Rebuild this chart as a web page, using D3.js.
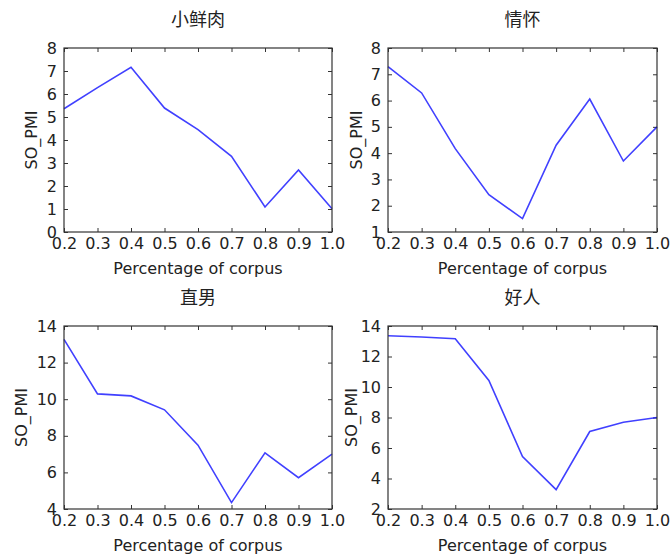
<!DOCTYPE html>
<html>
<head>
<meta charset="utf-8">
<script src="https://cdn.jsdelivr.net/npm/d3@7"></script>
<style>
  body { margin: 0; background: #fff; }
  svg { display: block; }
  text { font-family: "DejaVu Sans", sans-serif; fill: #222; }
  .title { font-family: "Noto Sans CJK SC", "DejaVu Sans", sans-serif; }
</style>
</head>
<body>
<div id="chart"></div>
<script>
// data
const xValues = [0.2, 0.3, 0.4, 0.5, 0.6, 0.7, 0.8, 0.9, 1.0];
const titles = ["小鲜肉", "情怀", "直男", "好人"];
const xiaoxianrou = [5.36, 6.28, 7.16, 5.39, 4.45, 3.29, 1.09, 2.70, 1.01];
const qinghuai    = [7.29, 6.29, 4.17, 2.42, 1.51, 4.30, 6.06, 3.70, 5.00];
const zhinan      = [13.27, 10.29, 10.18, 9.42, 7.49, 4.35, 7.07, 5.71, 7.00];
const haoren      = [13.36, 13.28, 13.17, 10.43, 5.44, 3.27, 7.08, 7.69, 8.00];
const yTicks1 = [0, 1, 2, 3, 4, 5, 6, 7, 8];
const yTicks2 = [1, 2, 3, 4, 5, 6, 7, 8];
const yTicks3 = [4, 6, 8, 10, 12, 14];
const yTicks4 = [2, 4, 6, 8, 10, 12, 14];
const xLabel = "Percentage of corpus";
const yLabel = "SO_PMI";

const W = 670, H = 556;
const svg = d3.select("#chart").append("svg").attr("width", W).attr("height", H);

// panel boxes (plot area)
const panels = [
  { series: xiaoxianrou, ticks: yTicks1, x0: 64,  x1: 332, y0: 48,  y1: 232, ylx: 31 },
  { series: qinghuai,    ticks: yTicks2, x0: 388, x1: 657, y0: 48,  y1: 232, ylx: 356 },
  { series: zhinan,      ticks: yTicks3, x0: 64,  x1: 332, y0: 326, y1: 509, ylx: 21 },
  { series: haoren,      ticks: yTicks4, x0: 388, x1: 657, y0: 326, y1: 509, ylx: 351 }
];

panels.forEach((p, i) => {
  const x = d3.scaleLinear().domain([0.2, 1.0]).range([p.x0, p.x1]);
  const y = d3.scaleLinear().domain(d3.extent(p.ticks)).range([p.y1, p.y0]);
  const g = svg.append("g");

  // bottom axis with labels, ticks pointing in
  const bx = g.append("g").attr("transform", `translate(0,${p.y1})`)
    .call(d3.axisBottom(x).tickValues(xValues).tickFormat(d3.format(".1f")).tickSize(-4).tickPadding(6));
  const tx = g.append("g").attr("transform", `translate(0,${p.y0})`)
    .call(d3.axisTop(x).tickValues(xValues).tickFormat("").tickSize(-4));
  const ly = g.append("g").attr("transform", `translate(${p.x0},0)`)
    .call(d3.axisLeft(y).tickValues(p.ticks).tickFormat(d3.format("d")).tickSize(-4).tickPadding(7));
  const ry = g.append("g").attr("transform", `translate(${p.x1},0)`)
    .call(d3.axisRight(y).tickValues(p.ticks).tickFormat("").tickSize(-4));

  [bx, tx, ly, ry].forEach(a => {
    a.select(".domain").remove();
    a.selectAll(".tick line").attr("stroke", "#333");
    a.selectAll("text").attr("font-size", 16).attr("fill", "#222")
      .style("font-family", '"DejaVu Sans", sans-serif');
  });

  // the line
  const line = d3.line().x((d, j) => x(xValues[j])).y(d => y(d));
  g.append("path").datum(p.series)
    .attr("d", line)
    .attr("fill", "none")
    .attr("stroke", "#0000ff")
    .attr("stroke-width", 1.6)
    .attr("stroke-opacity", 0.75);

  // frame
  g.append("rect")
    .attr("x", p.x0).attr("y", p.y0)
    .attr("width", p.x1 - p.x0).attr("height", p.y1 - p.y0)
    .attr("fill", "none").attr("stroke", "#333").attr("stroke-width", 1.2);

  // title
  g.append("text").attr("class", "title")
    .attr("x", (p.x0 + p.x1) / 2).attr("y", p.y0 - 22)
    .attr("text-anchor", "middle").attr("font-size", 18)
    .text(titles[i]);

  // axis labels
  g.append("text")
    .attr("x", (p.x0 + p.x1) / 2).attr("y", p.y1 + 42)
    .attr("text-anchor", "middle").attr("font-size", 16)
    .text(xLabel);
  g.append("text")
    .attr("transform", `translate(${p.ylx + 6},${(p.y0 + p.y1) / 2}) rotate(-90)`)
    .attr("text-anchor", "middle").attr("font-size", 16)
    .text(yLabel);
});
</script>
</body>
</html>
